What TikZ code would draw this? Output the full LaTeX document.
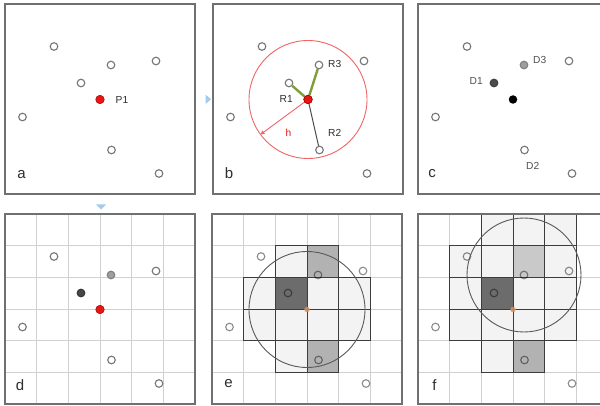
\documentclass[tikz,border=0pt]{standalone}
\usepackage{fontspec}
\setmainfont{Liberation Sans}
\usetikzlibrary{arrows.meta}
\definecolor{bordergray}{HTML}{707070}
\definecolor{gridgray}{HTML}{D0D0D0}
\definecolor{ptgray}{HTML}{767676}
\definecolor{txtgray}{HTML}{2E2E2E}
\definecolor{dlblgray}{HTML}{505050}
\definecolor{ptred}{HTML}{E81515}
\definecolor{ptreddark}{HTML}{A00000}
\definecolor{circred}{HTML}{F06565}
\definecolor{lgreen}{HTML}{7E9E3C}
\definecolor{cellLight}{HTML}{F3F3F3}
\definecolor{cellMid}{HTML}{B2B2B2}
\definecolor{cellMidL}{HTML}{C9C9C9}
\definecolor{cellDark}{HTML}{6C6C6C}
\definecolor{cellEdge}{HTML}{3C3C3C}
\definecolor{ctrorange}{HTML}{D8905A}
\definecolor{triblue}{HTML}{A3CBEE}
\tikzset{
  panel/.style={draw=bordergray, line width=1.3pt},
  gridline/.style={draw=gridgray, line width=0.8pt},
  cellbox/.style={draw=cellEdge, line width=0.9pt},
  pt/.style={circle, draw=ptgray, line width=1.1pt, fill=white, inner sep=0pt, minimum size=7.6pt},
  ptt/.style={circle, draw=black, draw opacity=0.45, line width=1.1pt, inner sep=0pt, minimum size=7.6pt},
  redpt/.style={circle, draw=ptreddark, line width=0.5pt, fill=ptred, inner sep=0pt, minimum size=8.5pt},
  blackpt/.style={circle, fill=black, inner sep=0pt, minimum size=8.5pt},
  ctrpt/.style={circle, fill=ctrorange, fill opacity=0.85, inner sep=0pt, minimum size=5.5pt},
  panlbl/.style={text=txtgray, font=\fontsize{15}{15}\selectfont, inner sep=0pt},
  lbl/.style={text=txtgray, font=\fontsize{10.2}{11}\selectfont, inner sep=0pt},
  dlbl/.style={text=dlblgray, font=\fontsize{10.2}{11}\selectfont, inner sep=0pt},
  redc/.style={draw=circred, line width=0.9pt},
  greyc/.style={draw=black!65, line width=0.9pt},
  greenline/.style={draw=lgreen, line width=2.4pt},
  darkline/.style={draw=black!70, line width=1pt},
  redarrow/.style={draw=circred, line width=0.9pt, -{Triangle[length=4pt,width=4pt]}},
}
\newcommand{\cw}{31.6667}
\begin{document}
\begin{tikzpicture}[x=1pt,y=-1pt]
\useasboundingbox (0,0) rectangle (600,406);
\fill[white] (0,0) rectangle (600,406);

% ---------- panel a ----------
\begin{scope}[shift={(5,4)}]
  \draw[panel] (0,0) rectangle (190,190);
  \node[pt] (aA) at (49,42.5) {};
  \node[pt] (aB) at (106,61) {};
  \node[pt] (aC) at (151,57) {};
  \node[pt] (aD) at (76,79) {};
  \node[pt] (aF) at (17.5,113) {};
  \node[pt] (aG) at (106.5,146) {};
  \node[pt] (aH) at (154,169.5) {};
  \node[redpt] (aE) at (95,95.5) {};
  \node[lbl, anchor=west] (aP) at (110.5,95.5) {P1};
  \node[panlbl] (al) at (16.5,170.5) {a};
\end{scope}

% ---------- panel b ----------
\begin{scope}[shift={(213,4)}]
  \draw[panel] (0,0) rectangle (190,190);
  \node[pt] (bA) at (49,42.5) {};
  \node[pt] (bB) at (106,61) {};
  \node[pt] (bC) at (151,57) {};
  \node[pt] (bD) at (76,79) {};
  \node[pt] (bF) at (17.5,113) {};
  \node[pt] (bG) at (106.5,146) {};
  \node[pt] (bH) at (154,169.5) {};
  \coordinate (bO) at (95,95.5);
  \draw[redc] (bO) circle[radius=59];
  \coordinate (bT) at (47.5,130.5);
  \draw[redarrow] (bO) -- (bT);
  \node[redpt] (bE) at (bO) {};
  \draw[greenline] (bE) -- (bD);
  \draw[greenline] (bE) -- (bB);
  \draw[darkline] (bE) -- (bG);
  \node[redpt] (bE2) at (bO) {};
  \node[lbl, anchor=west] (bR3) at (115,60) {R3};
  \node[lbl, anchor=west] (bR1) at (66.5,95) {R1};
  \node[lbl, anchor=west] (bR2) at (115,128.5) {R2};
  \node[lbl, text=ptred] (bh) at (75.5,128.5) {h};
  \node[panlbl] (bl) at (16,169.5) {b};
\end{scope}

% ---------- panel c ----------
\begin{scope}[shift={(418,4)}]
  \draw[panel] (0,0) rectangle (190,190);
  \node[pt] (cA) at (49,42.5) {};
  \node[pt, fill=black!38, draw=black!50] (cB) at (106,61) {};
  \node[pt] (cC) at (151,57) {};
  \node[pt, fill=black!70, draw=black!75] (cD) at (76,79) {};
  \node[pt] (cF) at (17.5,113) {};
  \node[pt] (cG) at (106.5,146) {};
  \node[pt] (cH) at (154,169.5) {};
  \node[blackpt] (cE) at (95,95.5) {};
  \node[dlbl, anchor=west] (cD3) at (115,56) {D3};
  \node[dlbl, anchor=west] (cD1) at (51.5,77) {D1};
  \node[dlbl, anchor=west] (cD2) at (108,161.5) {D2};
  \node[panlbl] (cl) at (14,169.5) {c};
\end{scope}

% ---------- panel d ----------
\begin{scope}[shift={(5,214)}]
  \foreach \i in {1,...,5} {
    \draw[gridline] (\i*\cw,0) -- (\i*\cw,190);
    \draw[gridline] (0,\i*\cw) -- (190,\i*\cw);
  }
  \draw[panel] (0,0) rectangle (190,190);
  \node[pt] (dA) at (49,42.5) {};
  \node[pt, fill=black!38, draw=black!50] (dB) at (106,61) {};
  \node[pt] (dC) at (151,57) {};
  \node[pt, fill=black!72, draw=black!78] (dD) at (76,79) {};
  \node[pt] (dF) at (17.5,113) {};
  \node[pt] (dG) at (106.5,146) {};
  \node[pt] (dH) at (154,169.5) {};
  \node[redpt] (dE) at (95,95.5) {};
  \node[panlbl] (dl) at (15,171) {d};
\end{scope}

% ---------- panel e ----------
\begin{scope}[shift={(212,214)}]
  \foreach \i in {1,...,5} {
    \draw[gridline] (\i*\cw,0) -- (\i*\cw,190);
    \draw[gridline] (0,\i*\cw) -- (190,\i*\cw);
  }
  \foreach \c/\r/\f in {2/1/cellLight, 3/1/cellMid,
      1/2/cellLight, 2/2/cellDark, 3/2/cellLight, 4/2/cellLight,
      1/3/cellLight, 2/3/cellLight, 3/3/cellLight, 4/3/cellLight,
      2/4/cellLight, 3/4/cellMid} {
    \draw[cellbox, fill=\f] (\c*\cw,\r*\cw) rectangle ++(\cw,\cw);
  }
  \node[ctrpt] (eE) at (95,95.5) {};
  \draw[greyc] (eE) circle[radius=58];
  \node[ptt] (eA) at (49,42.5) {};
  \node[ptt] (eB) at (106,61) {};
  \node[ptt] (eC) at (151,57) {};
  \node[ptt] (eD) at (76,79) {};
  \node[ptt] (eF) at (17.5,113) {};
  \node[ptt] (eG) at (106.5,146) {};
  \node[ptt] (eH) at (154,169.5) {};
  \draw[panel] (0,0) rectangle (190,190);
  \node[panlbl] (el) at (16.5,170) {e};
\end{scope}

% ---------- panel f ----------
\begin{scope}[shift={(418,214)}]
  \foreach \i in {1,...,5} {
    \draw[gridline] (\i*\cw,0) -- (\i*\cw,190);
    \draw[gridline] (0,\i*\cw) -- (190,\i*\cw);
  }
  \foreach \c/\r/\f in {2/0/cellLight, 3/0/cellLight, 4/0/cellLight,
      1/1/cellLight, 2/1/cellLight, 3/1/cellMidL, 4/1/cellLight,
      1/2/cellLight, 2/2/cellDark, 3/2/cellLight, 4/2/cellLight,
      1/3/cellLight, 2/3/cellLight, 3/3/cellLight, 4/3/cellLight,
      2/4/cellLight, 3/4/cellMid} {
    \draw[cellbox, fill=\f] (\c*\cw,\r*\cw) rectangle ++(\cw,\cw);
  }
  \node[ctrpt] (fE) at (95,95.5) {};
  \node[ptt] (fA) at (49,42.5) {};
  \node[ptt] (fB) at (106,61) {};
  \node[ptt] (fC) at (151,57) {};
  \node[ptt] (fD) at (76,79) {};
  \node[ptt] (fF) at (17.5,113) {};
  \node[ptt] (fG) at (106.5,146) {};
  \node[ptt] (fH) at (154,169.5) {};
  \draw[greyc] (fB.center) circle[radius=57];
  \draw[panel] (0,0) rectangle (190,190);
  \node[panlbl] (fl) at (16.5,171.5) {f};
\end{scope}

% ---------- small blue markers ----------
\fill[triblue] (205.5,94.5) -- (211,99.3) -- (205.5,104) -- cycle;
\fill[triblue] (96,204.5) -- (106,204.5) -- (101,209.5) -- cycle;
\end{tikzpicture}
\end{document}
